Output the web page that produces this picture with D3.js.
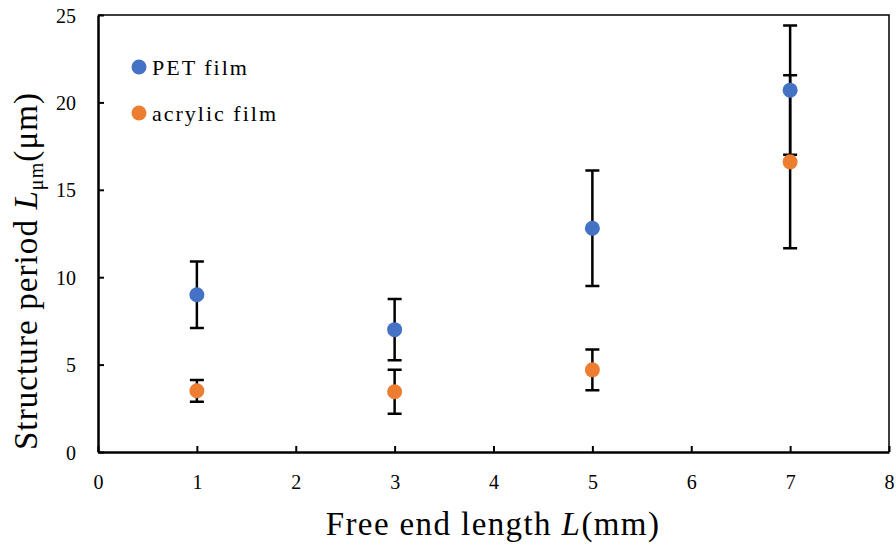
<!DOCTYPE html>
<meta charset="utf-8">
<script src="https://cdn.jsdelivr.net/npm/d3@7"></script>
<style>
  body { margin: 0; background: #fff; }
</style>
<body>
<script>

var width = 896
var height = 550
var serif = "'Liberation Serif', 'Times New Roman', serif"

// free end length L (mm)
var lengths = [1, 3, 5, 7]
var petValues = [9.0, 7.0, 12.8, 20.7]
var petErrors = [1.9, 1.75, 3.3, 3.7]
var acrylicValues = [3.5, 3.45, 4.7, 16.6]
var acrylicErrors = [0.62, 1.26, 1.17, 4.95]
var xTicks = [0, 1, 2, 3, 4, 5, 6, 7, 8]
var yTicks = [0, 5, 10, 15, 20, 25]

var series = [
  { name: "PET film", values: petValues, errors: petErrors, color: "#4472C4" },
  { name: "acrylic film", values: acrylicValues, errors: acrylicErrors, color: "#ED7D31" }
]

var x = d3.scaleLinear().domain([0, 8]).range([98, 889])
var y = d3.scaleLinear().domain([0, 25]).range([452, 15])

var svg = d3.select("body").append("svg")
            .attr("width", width)
            .attr("height", height)
            .style("font-family", serif)

// frame (top and right)
svg.append("path")
   .attr("d", "M" + x(0) + "," + y(25) + "H" + x(8) + "V" + y(0))
   .attr("fill", "none")
   .attr("stroke", "#000")
   .attr("stroke-width", 1.5)

var xAxis = svg.append("g")
    .attr("transform", "translate(0," + y(0) + ")")
    .call(d3.axisBottom(x).tickValues(xTicks).tickSizeInner(-6).tickSizeOuter(0).tickPadding(23))
var yAxis = svg.append("g")
    .attr("transform", "translate(" + x(0) + ",0)")
    .call(d3.axisLeft(y).tickValues(yTicks).tickSizeInner(-6).tickSizeOuter(0).tickPadding(22))

;[xAxis, yAxis].forEach(function(a) {
  a.attr("font-family", null).attr("font-size", null)
  a.select(".domain").attr("stroke", "#000").attr("stroke-width", 2.5)
  a.selectAll(".tick line").attr("stroke", "#000").attr("stroke-width", 2)
  a.selectAll(".tick text").style("font-family", serif).style("font-size", "20px").attr("fill", "#000")
})
yAxis.selectAll(".tick text").attr("dy", "0.35em")

// error bars
series.forEach(function(s) {
  var g = svg.append("g")
  lengths.forEach(function(d, i) {
    var hi = y(s.values[i] + s.errors[i]), lo = y(s.values[i] - s.errors[i])
    var cx = x(d)
    g.append("path")
     .attr("d", "M" + cx + "," + hi + "V" + lo + "M" + (cx - 7) + "," + hi + "H" + (cx + 7) + "M" + (cx - 7) + "," + lo + "H" + (cx + 7))
     .attr("stroke", "#000")
     .attr("stroke-width", 2.5)
     .attr("fill", "none")
  })
})

// points
series.forEach(function(s) {
  svg.append("g").selectAll("circle")
     .data(lengths)
     .enter().append("circle")
     .attr("cx", function(d) { return x(d) })
     .attr("cy", function(d, i) { return y(s.values[i]) })
     .attr("r", 7.5)
     .attr("fill", s.color)
})

// legend
series.forEach(function(s, i) {
  var ly = 67 + i * 46
  svg.append("circle").attr("cx", 139).attr("cy", ly).attr("r", 7.5).attr("fill", s.color)
  svg.append("text").attr("x", 152).attr("y", ly + 8)
     .style("font-family", serif).style("font-size", "22px").style("letter-spacing", "2px")
     .text(s.name)
})

// axis titles
var xt = svg.append("text")
   .attr("x", 493)
   .attr("y", 535)
   .style("text-anchor", "middle")
   .style("font-family", serif)
   .style("font-size", "33px")
   .style("letter-spacing", "1.4px")
xt.append("tspan").text("Free end length ")
xt.append("tspan").style("font-style", "italic").text("L")
xt.append("tspan").text("(mm)")

var yt = svg.append("text")
   .attr("transform", "translate(" + 37 + "," + 271 + ") rotate(-90)")
   .style("text-anchor", "middle")
   .style("font-family", serif)
   .style("font-size", "33px")
   .style("letter-spacing", "1.1px")
yt.append("tspan").text("Structure period ")
yt.append("tspan").style("font-style", "italic").text("L")
yt.append("tspan").attr("dy", 6).style("font-size", "20px").text("μm")
yt.append("tspan").attr("dy", -6).text("(μm)")

</script>
</body>
